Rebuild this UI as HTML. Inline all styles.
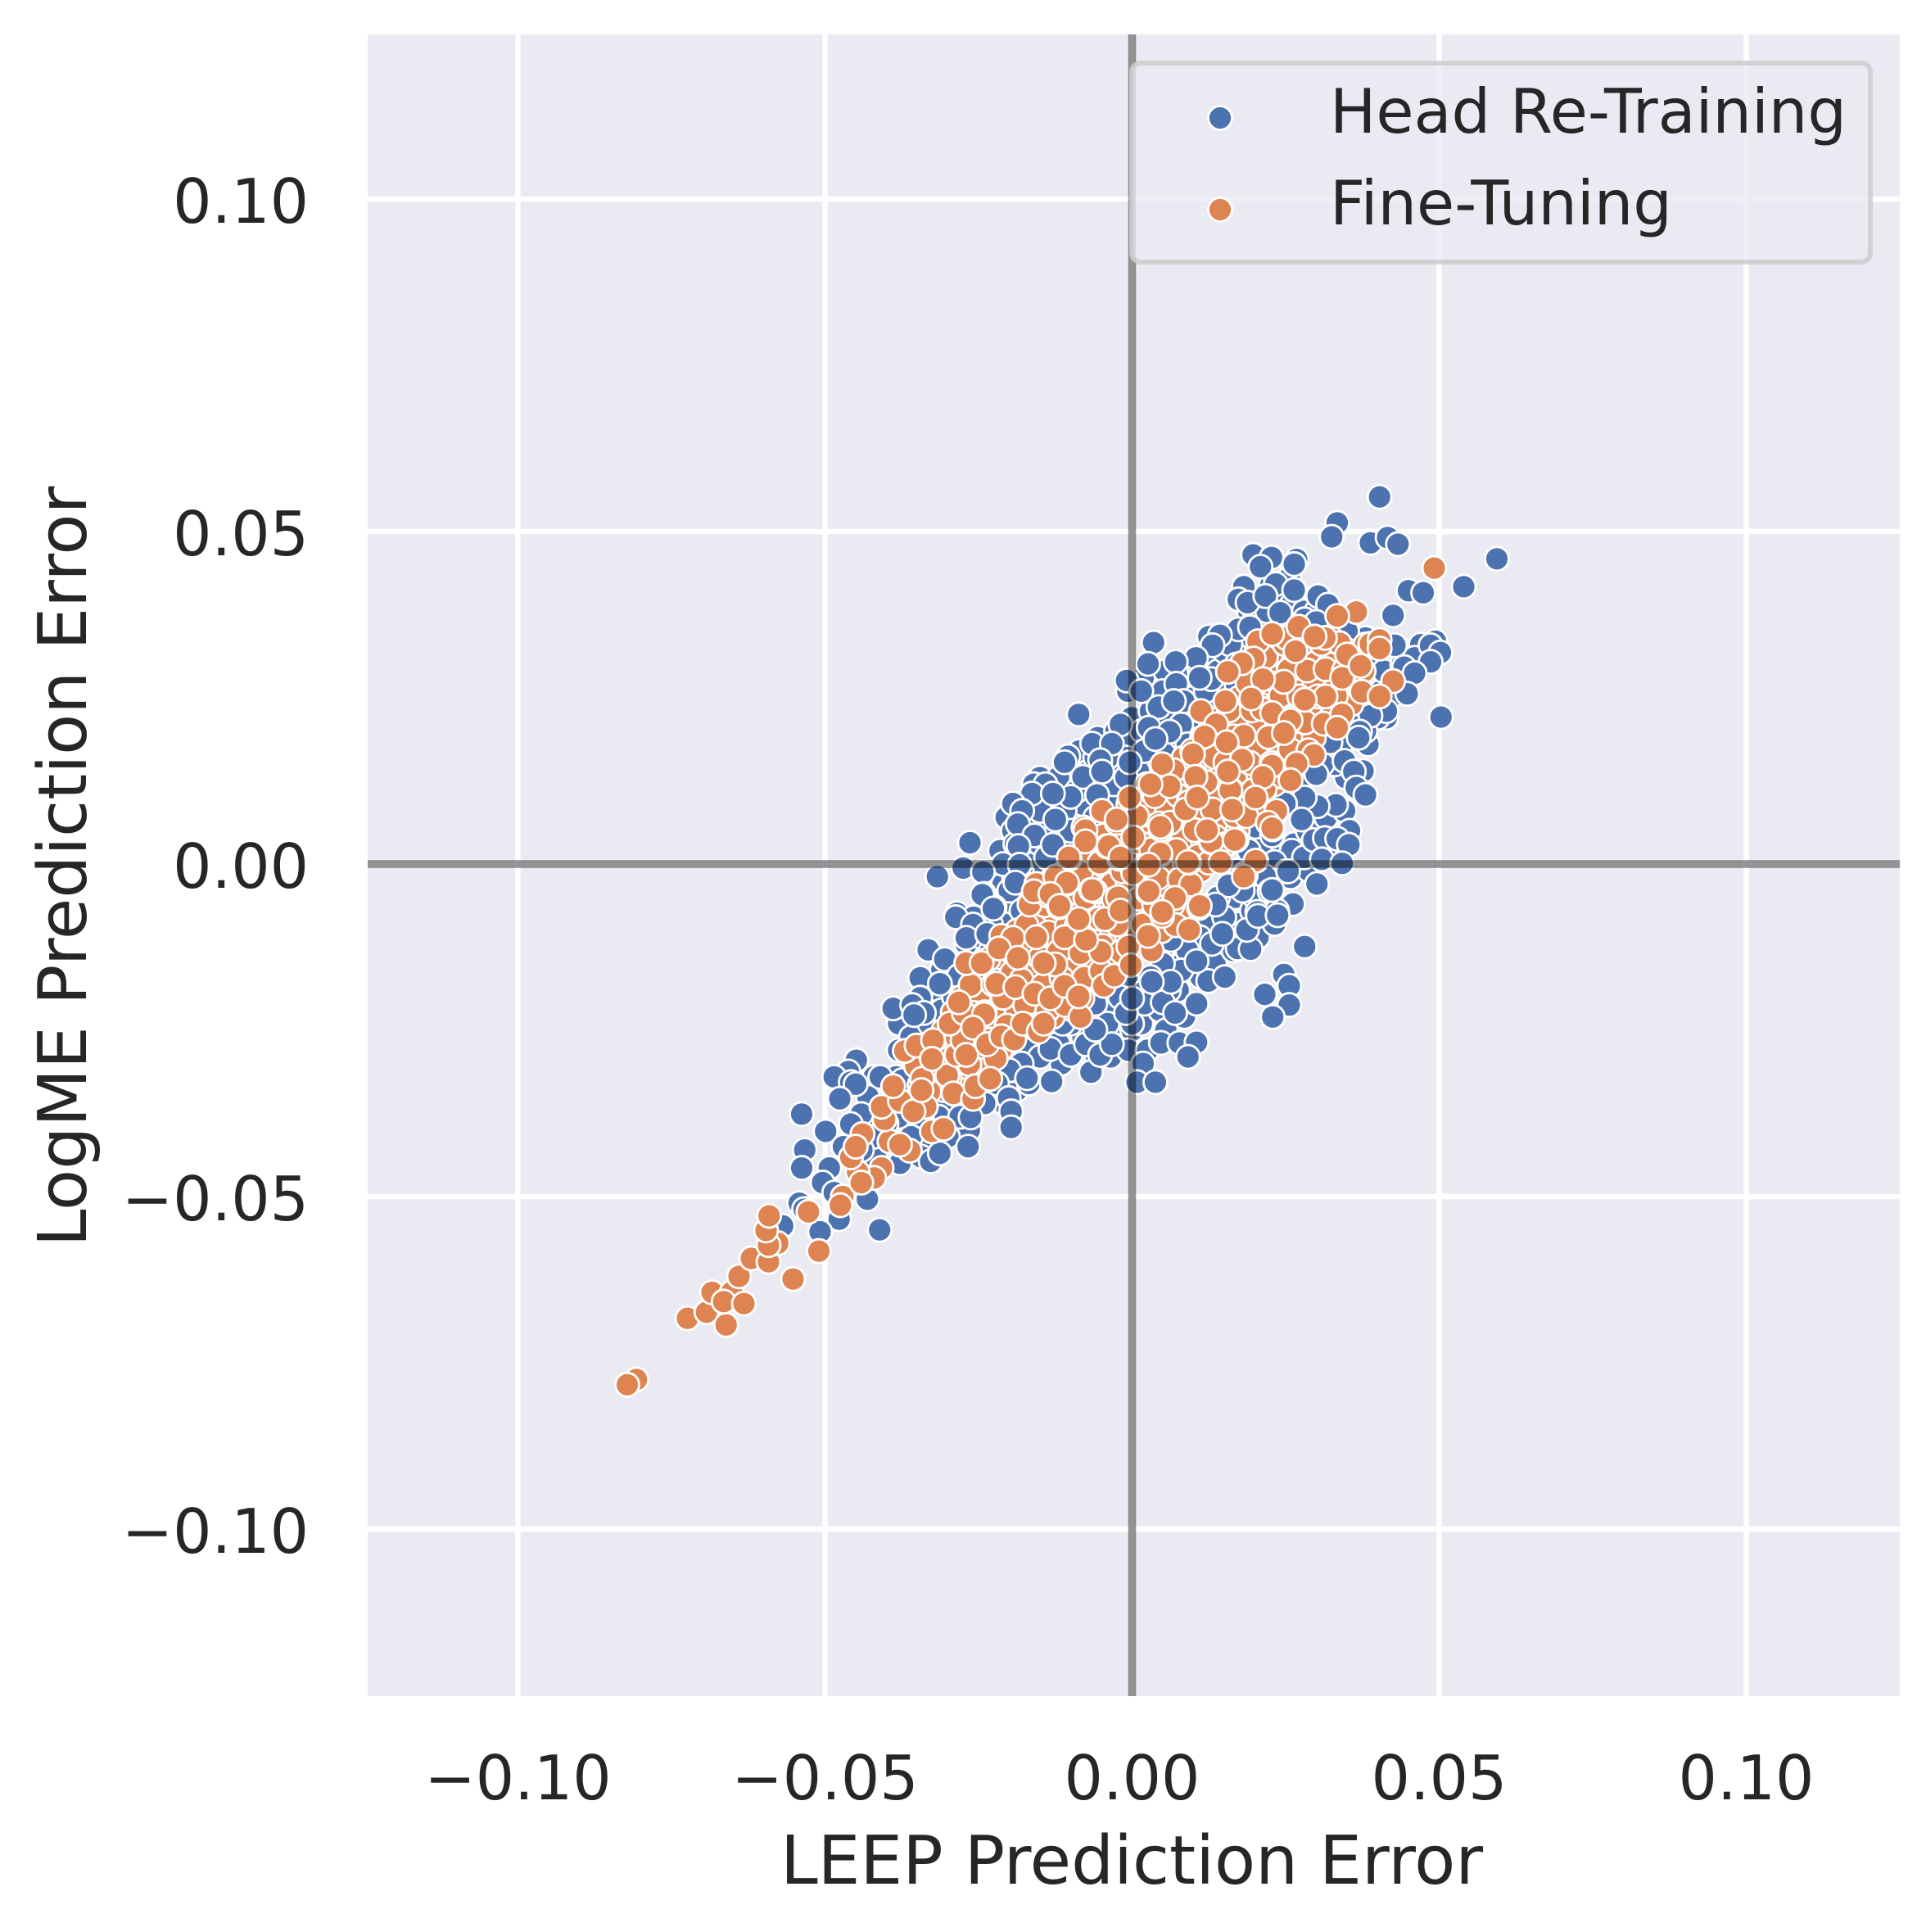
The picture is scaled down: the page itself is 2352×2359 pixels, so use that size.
<!DOCTYPE html>
<html lang="en">
<head>
<meta charset="utf-8">
<title>LEEP vs LogME Prediction Error</title>
<style>
html,body{margin:0;padding:0;background:#fff;width:2352px;height:2359px;overflow:hidden}
svg{display:block}
text{font-family:"DejaVu Sans","Liberation Sans",sans-serif;fill:#262626}
</style>
</head>
<body>
<svg id="chart" xmlns="http://www.w3.org/2000/svg" width="2352" height="2359" viewBox="0 0 2352 2359"></svg>
<script>
// All series values are in units of 0.001 prediction error.
const xTickValues = [-100, -50, 0, 50, 100];
const yTickValues = [-100, -50, 0, 50, 100];
const xTickLabels = ["\u22120.10", "\u22120.05", "0.00", "0.05", "0.10"];
const yTickLabels = ["\u22120.10", "\u22120.05", "0.00", "0.05", "0.10"];
const seriesNames = ["Head Re-Training", "Fine-Tuning"];

const headX = [
-42,-41.5,-42.4,-41.8,
-38,-38.4,-37.6,-38.2,-37.8,
-34,-34.5,-33.6,-34.2,-33.8,-34.4,
-31,-31.4,-30.6,-31.2,-30.8,-31.5,
-27,-27.5,-26.6,-27.2,-26.8,-27.4,-26.5,
-24,-24.4,-23.6,-24.2,-23.8,-24.5,
-21,-21.4,-20.6,-21.2,-20.8,-21.5,-20.5,
-19,-19.4,-18.6,-19.2,-18.8,-19.5,
-17,-17.4,-16.6,-17.2,-16.8,
-15,-15.4,
-11,-11.4,-10.6,-11.2,-10.8,-11.5,
-9,-9.4,-8.6,-9.2,
-6,-6.4,-5.6,-6.2,-5.8,
-3,-3.4,-2.6,-3.2,-2.8,-3.5,
-0.5,-0.9,-0.1,-0.7,-0.3,-1,0,-0.6,
2,1.6,2.4,1.8,2.2,1.5,2.5,
5,4.6,5.4,4.8,5.2,4.5,5.5,
8,7.6,8.4,7.8,8.2,7.5,8.5,
11,10.6,11.4,10.8,11.2,10.5,
14,13.6,14.4,13.8,14.2,13.5,
17,16.6,17.4,16.8,17.2,16.5,
20,19.6,20.4,19.8,20.2,19.5,20.5,
23,22.6,23.4,22.8,23.2,
26,25.6,26.4,25.8,26.2,
29,28.6,29.4,28.8,
32,31.6,32.4,
35,34.6,35.4,34.8,
38,37.6,38.4,
41,40.6,41.4,
44,43.6,
47,46.6,
-38,-36,-34,-33,-31,-30,-29,-28,-26,-25,
-23,-22,-21,-20,-18,-17,-16,-15,-14,-13,
-12,-10,-9,-8,-7,-6,-5,-3,-2,-1,
1,2,3,4,5,6,8,9,10,11,
12,13,14,15,16,17,19,20,22,24,
25,26,28,30,32,35,38,41,43,44,
46,42,40,38,36,34,33,31,29,28,
27,25,23,21,19,17,16,14,12,11,
9,8,6,5,3,2,-2,-4,-6,-8,
-10,-12,-15,-18,-20,-22,-24,-28,-30,-34,
-36,-38,-40,-42,-44,-43,-41,24,26,28,
20,18,15,13,-16,-14,-12,-11,-9,-7,
-6,-4,-3,-1,-17,-15,-13,-12,-10,-14,
-19,-21,-18,-23,
40.3,33.4,32.5,38.8,41.6,43.3,59.4,54.0,45.0,47.4,
42.5,19.7,22.7,26.8,26.4,20.9,18.2,23.4,26.4,17.3,
18.8,21.7,30.3,31.9,24.1,28.1,30.0,17.3,19.2,12.5,
14.3,13.1,3.5,10.4,7.1,2.6,-0.9,1.5,7.2,12.9,
11,8.4,4.3,6.8,-8.7,-1.9,2.7,6.1,3.8,50.3,
49.4,48.6,50.2,42.8,48.6,44.3,46,44.8,39.9,41.4,
38.8,37.1,36.9,32.3,34.6,36.1,36.5,38,30,33.2,
30.2,28.1,24.9,27.6,20.1,22.8,29.6,31.4,33.4,35.3,
30.9,34.2,23.2,25.1,18.2,21.7,15.7,22.4,30.1,20.4,
23.6,
-10.4,-6.5,-3.3,-5.2,-0.4,-11,-8,-14.1,-4.9,-16.3,
-10,-19.4,-17.9,-12.9,-5.7,-12.5,-18.6,-15.9,-12.9,-18.5,
-26.4,-27.5,-31.7,-24.3,-18.3,-24.1,-19,-22.4,-28.5,-25.8,
-24.4,-22.6,-28.7,-25.9,-27,-23.6,-33.2,-30.5,-34.5,-28.2,
-31.3,-34.5,-38.9,-35.8,-33.9,-35.5,-44.9,-46.2,-48.5,-45.8,
-45,-47.6,-53.8,-44.1,-45.8,-49.9,-53.3,-47,-53.8,-49.3,
-50.4,-48.5,-54.2,-53.4,-43.1,-47.7,-50.8,-41.1,-56.9,-20.1,
-19.7,-19.7,-26.3,-26.7,-32.8,-31.3,-37.4,-17.1,-13.1,-6.7,
-13.3,-10,-7.5,-5.2,-3.3,-6,-11.3,1.8,0.8,3.8,
4.7,7.7,10.5,9.1,0,-1,5,7,0,6.3,
3.2,12.4,15.1,10.5,17.2,19.3,14.7,18.7,20.5,23.7,
28.1,24.7,25.6,21.6,25.6,22.9,13.6,25.4,22.8,6.3
];
const headY = [
-32,-36,-40,-44,
-28,-32,-35,-42,-45,
-22,-25,-31,-35,-42,-44,
-16,-19,-29,-33,-36,-38,
-12,-15,-18,-27,-33,-36,-40,
-7,-11,-20,-27,-33,-35,
-3,-6,-13,-34,-36,2,7,
1,5,9,-2,-34,-31,
3,9,-4,-28,-33,
13,-1,
5,11,15,2,-27,-30,
8,14,17,-27,
10,13,19,-25,-29,
8,17,20,-22,-26,-29,
12,19,22,26,-18,-21,-25,-28,
15,20,25,28,-19,-24,-28,
17,24,29,-13,-17,-22,-25,
19,24,28,-11,-15,-19,-23,
22,27,-9,-13,-17,-21,
24,27,31,-7,-11,-15,
27,33,35,-5,-9,-13,
31,34,39,2,-3,-7,-11,
35,42,1,-5,-9,
36,43,3,-2,-6,
37,5,1,-1,
37,7,3,
36,8,5,13,
34,14,18,
33,26,22,
32,28,
33,30,
-24,-26,-28,-24,-22,-26,-20,-24,-19,-15,
-13,-16,-9,-4,-7,-11,0,3,6,9,
12,7,3,9,12,7,11,14,10,16,
14,17,23,20,26,22,21,18,25,29,
26,31,29,32,33,30,38,37,38,40,
37,39,38,38,36,35,31,29,27,30,
31,25,22,20,21,18,15,15,17,13,
12,11,7,3,2,-1,-3,-5,-9,-11,
-13,-16,-19,-15,-17,-21,-20,-24,-21,-26,
-24,-27,-29,-30,-31,-33,-36,-38,-41,-39,
-41,-38,-39,-41,-43,-35,-32,-1,2,1,
-5,-4,-8,-12,12,10,13,8,11,14,
16,16,12,13,6,8,4,1,5,1,
3,0,-1,-9,
55.2,51.3,49.2,48.3,49.1,48.1,45.9,41.7,41.1,40.8,
37.4,46.5,46.1,45.8,45.1,44.7,41.7,42.1,41.2,39.8,
39.3,40.3,40.3,39.0,37.8,36.8,36.4,35.3,35.6,34.2,
34.4,32.9,33.3,31.0,30.4,30.1,27.6,26.0,27.1,27.8,
28,24.5,23.6,24.5,22.5,21.0,20.5,19.9,18.8,22.1,
33.5,32.9,31.8,32.9,30.4,29.6,28.7,25.6,24.1,23.0,
22.3,19.9,19.0,18.3,15.5,13.9,11.5,10.4,13.5,8.9,
8.7,10,9.1,6.7,5.6,4.3,3.6,3.9,3.8,2.9,
0.7,0.1,0.3,-1.1,-1.5,-1.9,-3.2,-4.1,-3.0,-7.2,
-7,
16.2,18.1,18.1,15.6,15.3,15.3,13.1,12,13.9,10.6,
10.1,9.1,8,10.6,10.4,6.7,6,4.3,2.9,2.7,
3.2,-0.6,-1.9,-1.2,-0.1,-4.5,-2.8,-6.5,-7.4,-8,
-4.6,-6.7,-8,-9.1,-11.1,-10.5,-12.9,-14.3,-17.1,-16.8,
-18,-20.1,-21.7,-21.2,-22.4,-22.7,-29.5,-31.2,-32,-32.8,
-33.1,-35.3,-37.6,-37.6,-39.1,-40.2,-43,-42.5,-45.7,-45.7,
-47.9,-49.4,-51,-51.9,-50.4,-53.4,-55.3,-55,-54.4,-35.2,
-37.2,-39.6,-38.1,-42.5,-44.7,-43.5,-32.5,-32.2,-32.7,-31.3,
-27.8,-28.7,-27.1,-28.7,-27.1,-24.9,-24,-30,-32.8,-32.8,
-26.9,-26.9,-26.8,-29,-24,-22.4,-20.8,-22.4,-20.2,-17.7,
-17.7,-17.6,-17,-14.6,-12.7,-12.8,-10.5,-9.9,-7.8,-7.7,
-12.4,-16.6,-18.3,-19.6,-21.2,-23,-6.1,-1.1,-3.9,-11.4
];

const fineX = [
-33.8,-34.1,
-30.7,-30.4,-31,-30.6,
-27.8,-28.1,-27.5,-27.9,-27.6,
-24.7,-25,-24.4,-24.8,-24.5,
-21.6,-21.9,-21.3,-21.7,-21.4,
-18.7,-19,-18.4,-18.8,-18.5,
-15.6,-15.9,-15.3,-15.7,-15.4,
-12.7,-13,-12.4,-12.8,-12.5,-12.9,
-9.6,-9.9,-9.3,-9.7,-9.4,-9.8,-9.5,
-6.7,-7,-6.4,-6.8,-6.5,-6.9,
-3.6,-3.9,-3.3,-3.7,-3.4,-3.8,
-0.6,-0.9,-0.3,-0.7,-0.4,-0.8,-0.5,
2.4,2.1,2.7,2.3,2.6,2.2,2.5,
5.4,5.1,5.7,5.3,5.6,5.2,5.5,
8.4,8.1,8.7,8.3,8.6,8.2,8.5,
11.4,11.1,11.7,11.3,11.6,11.2,
14.4,14.1,14.7,14.3,14.6,14.2,
17.4,17.1,17.7,17.3,17.6,17.2,
20.4,20.1,20.7,20.3,20.6,20.2,
23.4,23.1,23.7,23.3,23.6,23.2,23.5,
26.4,26.1,26.7,26.3,26.6,26.2,
29.4,29.1,29.7,29.3,29.6,
32.4,32.1,32.7,32.3,
35.4,35.1,35.7,
38,37.7,
-35.2,-34.6,-36.1,-32.3,-31.4,-33,-29.2,-28.6,-30.1,-29.7,
-26.3,-25.8,-27,-26.5,-23.4,-22.6,-24,-23,-22.2,-20.3,
-19.6,-21,-20.4,-17.2,-16.5,-18,-17.4,-16.8,-14.2,-13.6,
-15,-14.5,-13.8,-11.3,-10.6,-12,-11.5,-10.9,-8.3,-7.6,
-9,-8.4,-7.8,-8.1,-5.3,-4.6,-6,-5.4,-4.8,-5.1,
-2.2,-1.6,-3,-2.4,-1.8,0.8,1.5,0.2,1.1,1.7,
0.6,3.7,4.4,3.1,4.2,3.6,4.8,6.8,7.5,6.2,
7.2,7.7,6.6,7.1,9.8,10.5,9.2,10.2,10.7,9.6,
12.7,13.4,12.1,13.1,13.6,12.5,15.8,16.5,15.2,16.2,
16.7,15.6,18.8,19.5,18.2,19.2,19.7,18.6,21.8,22.5,
21.2,22.2,22.7,21.6,22.1,24.8,25.5,24.2,25.2,25.7,
24.6,27.8,28.5,27.2,28.2,28.7,30.8,31.5,30.2,31.2,
33.8,34.5,33.2,37,
-80.7,-82.2,-72.4,-69.3,-66.1,-68.4,-65.2,-66.5,-63.2,-64,
-62,-59.2,-55.2,-51,-57.7,-59.2,-59.6,-59.1,-52.7,-47.1,
-47.5,-40.8,-42,-44.7,-45.8,-44.1,-43.9,-45,-39.5,-36.2,
-37.8,-40.3,-32.6,-30.7,-40.8,-37.8,-33.6,-35.6,-38.9,-34.2,
-30.1,-29.1,-25.9,-25.5,-23.1,-34.3,-37,-35.1,-32.4,-32.6,
-28.6,-27.6,-27,-29.7,-27.4,-24.1,-28.2,-25.9,-23.6,-21.3,
-19.2,-17.8,-15.2,-14.4,-8.4,-27,-24.5,-21.3,-19.4,-21.7,
-18.6,-22.1,-19,-15.6,-11,-12.5,-14.4,-15.9,-13.3,-11,
-8.7,-16.7,-15.6,-13.6,-11.9,-10.8,-6.7,-10.2,-7.5,-4.1,
-2.1,-7.9,-4.4,-5.1,-2.1,-0.6,3.2,-4.6,-2.9,-0.2,
-7.5,-8.7,2.5,4.9,7,10.9,9.3,2.6,9.3,20.2,
18.5,12.8,17,22.9,4.7,-2.5,0.2,4.6,0.2,
49.2,36.5,33.4,25.1,27.1,31.4,29.7,20.5,22.8,38.8,
40.3,40.3,35,26.6,19.8,17.9,15.6,34.2,37.2,42.5,
37.4,40.3,24.7,21.3,19.4,15.2,31.5,28.1,34.2,33.4,
22.8,25.8,24.7,11.2,13.7,11.8,15.4,9.9,17.9,29.6,
26.8,22.8,25.8,21.3,4.9,6.1,3,10.3,16,15.6,
20.1,16.3,8.7,10.6,-0.4,-4.9,-2.5,4.6,12.9,12.2,
16.7,22.8,-7.6,-7.6,-3.8,-10.3,-1.9,4.6,9.1,20.1,
18.2,2.7,14.4,-12.5,-10.6,-6.5,-2.3,-16,-13.3,-11.8,
2.7,11,4.9,-1.9
];
const fineY = [
-30,-33,
-25,-28,-31,-34,
-20,-24,-28,-31,-34,
-16,-20,-24,-28,-31,
-14,-18,-22,-25,-28,
-10,-14,-18,-22,-25,
-8,-12,-16,-20,-23,
-3,-7,-11,-15,-19,-23,
1,-3,-7,-11,-15,-19,-22,
1,-3,-7,-11,-15,-18,
5,1,-3,-7,-11,-14,
9,5,1,-3,-7,-11,-14,
12,8,4,0,-4,-8,-11,
14,12,8,4,0,-4,-8,
16,12,8,4,0,-4,-7,
19,15,11,7,3,-1,
22,18,14,10,6,2,
25,21,17,13,9,5,
29,25,21,17,13,9,
32,28,24,20,16,12,8,
34,30,26,22,18,14,
34,31,27,23,19,
34,30,26,22,
32,28,24,
33,29,
-30.4,-33.2,-36,-28.1,-31.3,-34.2,-22.3,-26.1,-29.4,-32.2,
-18.2,-22.4,-26.2,-30.1,-14.3,-18.1,-22.3,-26.4,-29.2,-12.2,
-16.4,-20.1,-24.3,-9.2,-13.1,-17.4,-21.2,-24.3,-6.2,-10.3,
-14.1,-18.2,-22.1,-5.2,-9.3,-13.2,-17.1,-21.2,-1.3,-5.1,
-9.2,-13.4,-17.1,-20.2,0.2,4.3,-4.1,-8.2,-12.3,-16.1,
3.2,-1.1,-5.3,-9.1,-13.2,7.2,3.1,-1.3,-5.2,-9.1,
-13.1,10.2,6.1,2.2,-2.1,-6.2,-10.1,14.1,10.3,6.2,
2.1,-2.3,-6.1,-9.2,17.1,13.2,9.3,5.1,1.2,-3.1,
20.2,16.1,12.3,8.2,4.1,0.2,23.1,19.2,15.3,11.1,
7.2,3.1,27.2,23.1,19.3,15.2,11.1,7.2,31.1,27.2,
23.3,19.1,15.2,11.3,6.2,33.1,29.2,25.3,21.1,17.2,
13.1,33.2,29.1,25.2,21.3,17.1,33.1,29.3,25.2,21.1,
33.2,29.1,25.3,30.2,
-77.5,-78.3,-68.3,-67.4,-69.3,-64.4,-64.4,-65.8,-66.1,-62,
-59.3,-59.8,-62.4,-58.2,-57,-57.3,-55.1,-52.9,-52.3,-50,
-51.3,-45.7,-47.2,-46.3,-44.1,-47.9,-40.6,-42.5,-41.7,-43.1,
-42.2,-38.4,-40.2,-39.8,-36.5,-35.6,-36.5,-37.2,-33.4,-32.3,
-31.8,-34.5,-35.3,-33.4,-32.3,-34,-28.1,-27.3,-26.5,-29.3,
-28.7,-26.5,-28.7,-24,-22.4,-22.6,-20.8,-24.6,-27.1,-25.9,
-26.4,-24,-25.2,-24,-23,-14.9,-14.9,-10.8,-11.1,-12.7,
-14.1,-18,-18.5,-11,-11,-15.1,-14.9,-19.5,-20.2,-18.3,
-19.9,-6.1,-3,-4.8,-6.5,-3,-3.9,0.8,3.6,2.7,
0.8,5.5,-8.3,-13.2,-5.1,-12.4,-13,-18.3,-16.8,-15.2,
-11.4,-8.3,-4.2,-7.8,-5.1,-6.6,-9.9,-10.8,0.2,0.5,
-1.7,3.3,3.6,5.2,5.2,6.2,4,1.4,-1.4,
44.5,37.9,37.3,34,35.7,34,34.2,33.5,34.6,33.1,
33.7,32.4,31.5,32,30.9,30.2,28.9,28,29.8,27.5,
25.9,25.2,27.4,27.8,24.9,24.5,25.2,24.7,22.5,20.5,
22.7,21.6,19.7,23,21,19.2,18.3,16.5,15.7,16.4,
15.1,14.8,12.6,13.1,15,11.7,12,13.1,11.1,13.9,
10,8.2,8.2,10,10,8,6.7,5.6,3.4,5.1,
3.6,5.4,5.1,3.4,2.7,1,1,1.6,0.3,0.5,
-1.9,-0.1,0.3,-1.9,-2.8,-3.9,-5,-4.1,-4.5,-6.3,
-4.1,-6.3,-7.2,-7
];

const NS = 'http://www.w3.org/2000/svg';
const svg = document.getElementById('chart');
const plot = { left: 449, right: 2320, top: 42, bottom: 2071, x0: 1382.5, y0: 1055, kx: 7.5, ky: 8.12 };
const xScale = function (v) { return plot.x0 + v * plot.kx; };
const yScale = function (v) { return plot.y0 - v * plot.ky; };

function make(tag, attrs, parent) {
  const el = document.createElementNS(NS, tag);
  for (const k in attrs) el.setAttribute(k, attrs[k]);
  (parent || svg).appendChild(el);
  return el;
}

const bg = make('rect', { x: plot.left, y: plot.top, width: plot.right - plot.left, height: plot.bottom - plot.top, fill: '#eaeaf2' });



xTickValues.forEach(function (v, i) {
  const g = make('line', { x1: xScale(v), x2: xScale(v), y1: plot.top, y2: plot.bottom, stroke: '#fff', 'stroke-width': 6.5 });
  
  
  const t = make('text', { x: xScale(v), y: 2197, 'font-size': 74.5, 'text-anchor': 'middle' });
  t.textContent = xTickLabels[i];
  
  
});
yTickValues.forEach(function (v, i) {
  const g = make('line', { x1: plot.left, x2: plot.right, y1: yScale(v), y2: yScale(v), stroke: '#fff', 'stroke-width': 6.5 });
  
  
  const t = make('text', { x: 377, y: yScale(v) + 29, 'font-size': 74.5, 'text-anchor': 'end' });
  t.textContent = yTickLabels[i];
  
  
});

function drawSeries(xs, ys, color, name) {
  const g = make('g', { fill: color, stroke: '#fff', 'stroke-width': 2.8 });
  
  
  xs.forEach(function (x, i) {
    const c = make('circle', { cx: xScale(x), cy: yScale(ys[i]), r: 14.5 }, g);
    
    
  });
}
drawSeries(headX, headY, '#4c72b0', 'head-retraining');
drawSeries(fineX, fineY, '#dd8452', 'fine-tuning');

const hz = make('line', { x1: plot.left, x2: plot.right, y1: yScale(0), y2: yScale(0), stroke: '#000', 'stroke-opacity': 0.42, 'stroke-width': 9.5 });


const vt = make('line', { x1: xScale(0), x2: xScale(0), y1: plot.top, y2: plot.bottom, stroke: '#000', 'stroke-opacity': 0.42, 'stroke-width': 9.5 });



const legend = make('g', {});


const frame = make('rect', { x: 1382, y: 77, width: 902, height: 243, rx: 11, ry: 11, fill: '#eaeaf2', 'fill-opacity': 0.8, stroke: '#cccccc', 'stroke-opacity': 0.85, 'stroke-width': 6 }, legend);


const legendColors = ['#4c72b0', '#dd8452'];
seriesNames.forEach(function (n, i) {
  const cy = 144 + i * 112;
  const m = make('circle', { cx: 1490, cy: cy, r: 14.5, fill: legendColors[i], stroke: '#fff', 'stroke-width': 2.8 }, legend);
  
  
  const t = make('text', { x: 1624, y: cy + 18, 'font-size': 75 }, legend);
  t.textContent = n;
  
  
});

const xl = make('text', { x: 1382, y: 2300, 'font-size': 82, 'text-anchor': 'middle' });
xl.textContent = 'LEEP Prediction Error';


const yl = make('text', { x: 0, y: 0, 'font-size': 82, 'text-anchor': 'middle', transform: 'translate(105,1058) rotate(-90)' });
yl.textContent = 'LogME Prediction Error';


</script>
</body>
</html>
